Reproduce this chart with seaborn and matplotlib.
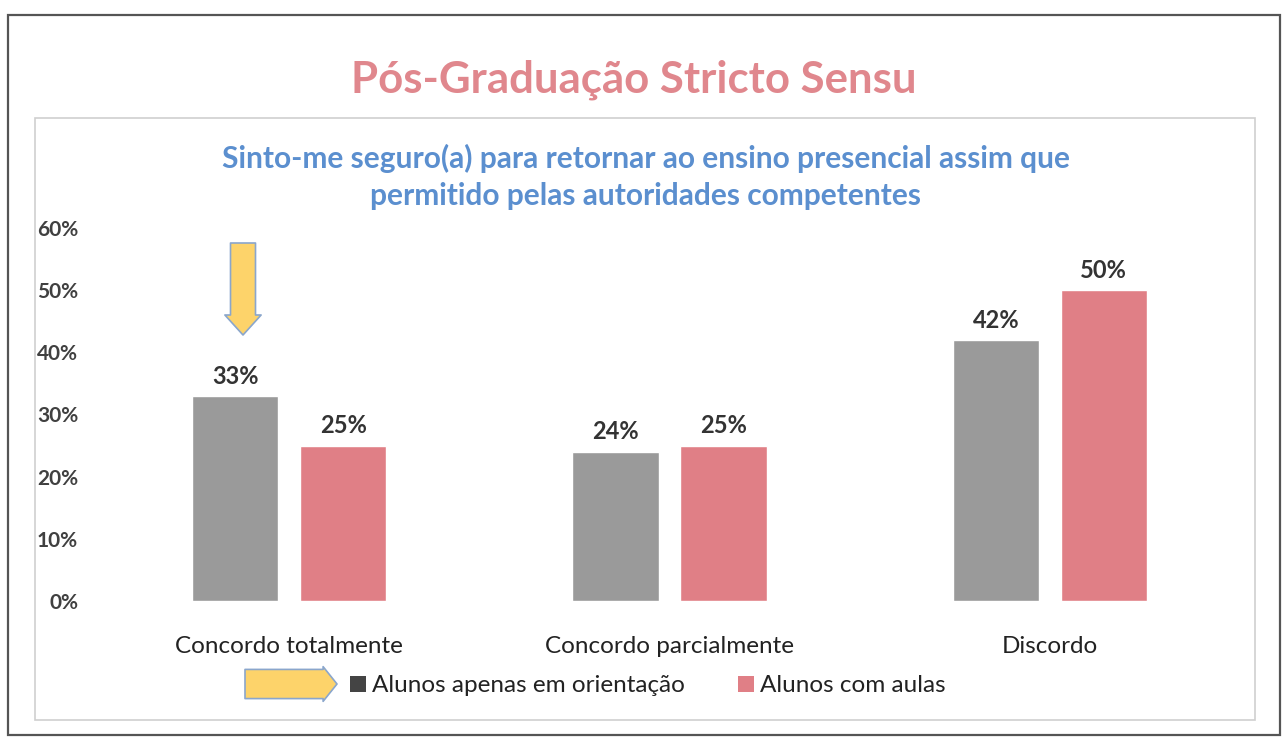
import matplotlib
matplotlib.use("Agg")
import matplotlib.pyplot as plt
import matplotlib.patches as mpatches
import seaborn as sns
import pandas as pd

categories = ["Concordo totalmente", "Concordo parcialmente", "Discordo"]
series_names = ["Alunos apenas em orientação", "Alunos com aulas"]
orientacao = [33, 24, 42]
com_aulas = [25, 25, 50]
yticks = [0, 10, 20, 30, 40, 50, 60]
ytick_labels = ["0%", "10%", "20%", "30%", "40%", "50%", "60%"]

title = "Pós-Graduação Stricto Sensu"
subtitle = "Sinto-me seguro(a) para retornar ao ensino presencial assim que\npermitido pelas autoridades competentes"

GREY = "#9a9a9a"
RED = "#e07f86"
TITLE_RED = "#e0878d"
BLUE = "#5b8fcf"
YELLOW = "#fdd36a"
ARROW_EDGE = "#8aa6cc"

sns.set_theme(style="white")
plt.rcParams["font.family"] = ["Lato", "DejaVu Sans"]

df = pd.DataFrame({
    "cat": categories * 2,
    "serie": [series_names[0]] * 3 + [series_names[1]] * 3,
    "val": orientacao + com_aulas,
})

W, H = 1287, 742
fig = plt.figure(figsize=(W / 100, H / 100), dpi=100)
fig.patch.set_facecolor("white")

# frames
fig.add_artist(mpatches.Rectangle((8 / W, 1 - 735 / H), 1272 / W, 720 / H,
                                  transform=fig.transFigure, fill=False,
                                  edgecolor="#555555", linewidth=1.6))
fig.add_artist(mpatches.Rectangle((35 / W, 1 - 720 / H), 1220 / W, 602 / H,
                                  transform=fig.transFigure, fill=False,
                                  edgecolor="#cfcfcf", linewidth=1.2))

left, right = 99 / W, 1240 / W
bottom, top = 1 - 601 / H, 1 - 228 / H
ax = fig.add_axes([left, bottom, right - left, top - bottom])

sns.barplot(data=df, x="cat", y="val", hue="serie", palette=[GREY, RED],
            width=0.568, gap=0.2, ax=ax, legend=False, saturation=1)

ax.set_ylim(0, 60)
ax.set_xlim(-0.5, 2.5)
ax.set_yticks(yticks)
ax.set_yticklabels(ytick_labels, fontsize=15, fontweight="bold", color="#404040")
ax.tick_params(axis="y", pad=15, length=0)
ax.tick_params(axis="x", pad=25, length=0)
ax.set_xticks(range(len(categories)))
ax.set_xticklabels(categories, fontsize=17.5, color="#222222")
ax.set_xlabel("")
ax.set_ylabel("")
for s in ax.spines.values():
    s.set_visible(False)
ax.grid(False)

for cont in ax.containers:
    ax.bar_label(cont, labels=[f"{v:.0f}%" for v in cont.datavalues],
                 padding=6, fontsize=17, fontweight="bold", color="#333333")

fig.text(634 / W, 1 - 80 / H, title, ha="center", va="center",
         fontsize=31.5, fontweight="bold", color=TITLE_RED)
fig.text(646 / W, 1 - 177 / H, subtitle, ha="center", va="center",
         fontsize=21.5, fontweight="bold", color=BLUE, linespacing=1.38)

# down arrow above first bar
ax.annotate("", xy=(243, H - 335), xytext=(243, H - 243),
            xycoords="figure pixels", textcoords="figure pixels",
            arrowprops=dict(arrowstyle="simple,head_length=0.8,head_width=1.45,tail_width=1.0",
                            mutation_scale=18, facecolor=YELLOW, edgecolor=ARROW_EDGE,
                            linewidth=1.2, shrinkA=0, shrinkB=0))
# legend arrow
ax.annotate("", xy=(337, H - 684), xytext=(245, H - 684),
            xycoords="figure pixels", textcoords="figure pixels",
            arrowprops=dict(arrowstyle="simple,head_length=0.5,head_width=1.25,tail_width=1.05",
                            mutation_scale=20, facecolor=YELLOW, edgecolor=ARROW_EDGE,
                            linewidth=1.2, shrinkA=0, shrinkB=0))

handles = [mpatches.Patch(facecolor="#444444", edgecolor="none", label=series_names[0]),
           mpatches.Patch(facecolor=RED, edgecolor="none", label=series_names[1])]
fig.legend(handles=handles, loc="center", bbox_to_anchor=(648 / W, 1 - 686 / H),
           ncol=2, frameon=False, fontsize=17.5, handlelength=0.65, handleheight=0.65,
           handletextpad=0.25, columnspacing=2.2, labelcolor="#222222")

fig.savefig("out.png", dpi=100, facecolor="white")
